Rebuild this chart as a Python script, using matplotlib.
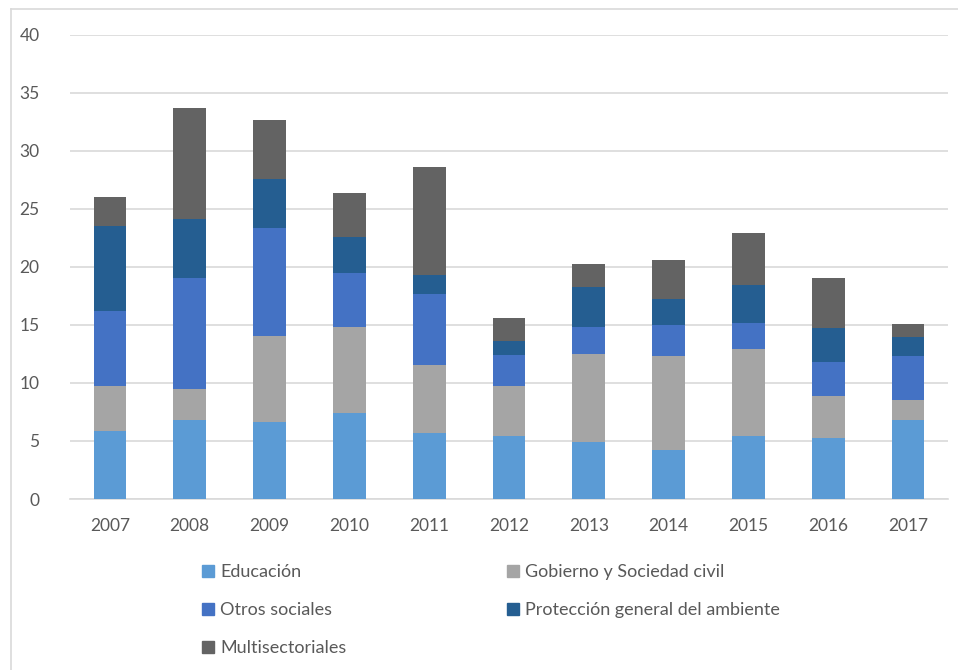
import matplotlib.pyplot as plt
import numpy as np
from matplotlib.lines import Line2D

plt.rcParams['font.family'] = ['Lato', 'DejaVu Sans']

years = ['2007', '2008', '2009', '2010', '2011', '2012',
         '2013', '2014', '2015', '2016', '2017']

educacion = [5.86, 6.78, 6.61, 7.38, 5.72, 5.43, 4.94, 4.22, 5.43, 5.26, 6.78]
gobierno = [3.91, 2.67, 7.47, 7.48, 5.83, 4.34, 7.53, 8.08, 7.47, 3.59, 1.78]
otros = [6.43, 9.57, 9.31, 4.59, 6.12, 2.67, 2.39, 2.67, 2.24, 2.99, 3.74]
proteccion = [7.33, 5.09, 4.17, 3.16, 1.64, 1.21, 3.44, 2.27, 3.31, 2.87, 1.64]
multi = [2.53, 9.57, 5.08, 3.74, 9.28, 1.92, 1.93, 3.31, 4.48, 4.31, 1.17]

series = [
    ('Educación', educacion, '#5B9BD5'),
    ('Gobierno y Sociedad civil', gobierno, '#A5A5A5'),
    ('Otros sociales', otros, '#4472C4'),
    ('Protección general del ambiente', proteccion, '#255E91'),
    ('Multisectoriales', multi, '#636363'),
]

fig = plt.figure(figsize=(9.58, 6.70), dpi=100)
ax = fig.add_axes([0.0731, 0.2552, 0.9165, 0.6930])

x = np.arange(len(years))
bottom = np.zeros(len(years))
handles = {}
for name, vals, color in series:
    ax.bar(x, vals, width=0.41, bottom=bottom, color=color, zorder=3)
    bottom += np.array(vals)
    handles[name] = Line2D([], [], marker='s', linestyle='none',
                           markersize=8, color=color)

ax.set_ylim(0, 40)
ax.set_xlim(-0.5, len(years) - 0.5)
ax.set_yticks(range(0, 41, 5))
ax.set_xticks(x)
ax.set_xticklabels(years)
ax.yaxis.grid(True, color='#D9D9D9', linewidth=1.2, zorder=0)
ax.tick_params(length=0, labelsize=12.5, colors='#595959')
ax.tick_params(axis='x', pad=14)
ax.tick_params(axis='y', pad=22)
for s in ['top', 'right', 'left']:
    ax.spines[s].set_visible(False)
ax.spines['bottom'].set_color('#D9D9D9')
ax.spines['bottom'].set_linewidth(1.2)

# column-major order so the legend reads row by row
order = ['Educación', 'Otros sociales', 'Multisectoriales',
         'Gobierno y Sociedad civil', 'Protección general del ambiente']
leg = fig.legend([handles[n] for n in order], order, ncol=2,
                 loc='upper left', bbox_to_anchor=(0.211, 0.158),
                 frameon=False, fontsize=13, handlelength=0.6,
                 handletextpad=0.4, columnspacing=8.9, labelspacing=1.22,
                 borderaxespad=0, borderpad=0)
for t in leg.get_texts():
    t.set_color('#595959')

# light frame around the chart area
fig.add_artist(Line2D([0.0115, 0.0115], [0, 0.987], color='#D9D9D9',
                      linewidth=1.2, transform=fig.transFigure))
fig.add_artist(Line2D([0.0115, 1], [0.987, 0.987], color='#D9D9D9',
                      linewidth=1.2, transform=fig.transFigure))

fig.savefig('out.png', dpi=100)
